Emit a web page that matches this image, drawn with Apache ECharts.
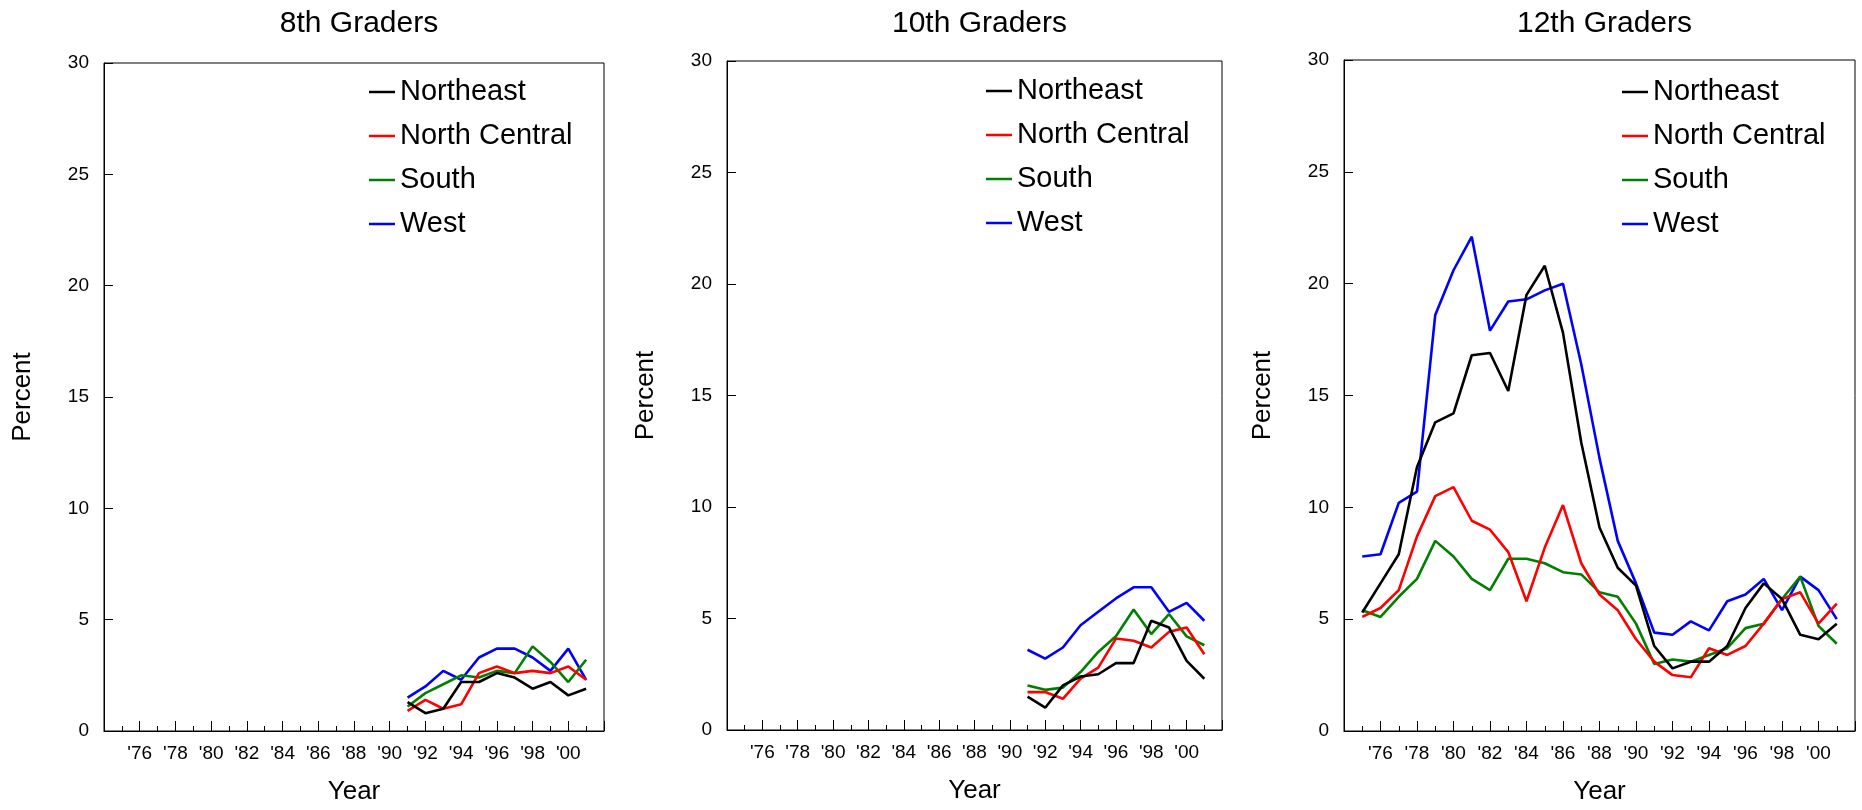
<!DOCTYPE html>
<html>
<head>
<meta charset="utf-8">
<script src="https://cdn.jsdelivr.net/npm/echarts@6/dist/echarts.min.js"></script>
<style>
html,body{margin:0;padding:0;background:#fff;}
#chart{width:1862px;height:810px;}
</style>
</head>
<body>
<div id="chart"></div>
<script>
// ---- Data ----
const panelTitles = ['8th Graders', '10th Graders', '12th Graders'];
const regionNames = ['Northeast', 'North Central', 'South', 'West'];
const regionColors = ['#000000', '#ff0000', '#008000', '#0000ff'];

const years8 = [1991,1992,1993,1994,1995,1996,1997,1998,1999,2000,2001];
const ne8   = [1.3,0.8,1.0,2.2,2.2,2.6,2.4,1.9,2.2,1.6,1.9];
const nc8   = [0.9,1.4,1.0,1.2,2.6,2.9,2.6,2.7,2.6,2.9,2.3];
const south8= [1.1,1.7,2.1,2.5,2.4,2.7,2.6,3.8,3.1,2.2,3.2];
const west8 = [1.5,2.0,2.7,2.3,3.3,3.7,3.7,3.3,2.7,3.7,2.3];

const years10 = [1991,1992,1993,1994,1995,1996,1997,1998,1999,2000,2001];
const ne10   = [1.5,1.0,2.0,2.4,2.5,3.0,3.0,4.9,4.6,3.1,2.3];
const nc10   = [1.7,1.7,1.4,2.3,2.8,4.1,4.0,3.7,4.4,4.6,3.4];
const south10= [2.0,1.8,1.9,2.6,3.5,4.2,5.4,4.3,5.2,4.2,3.8];
const west10 = [3.6,3.2,3.7,4.7,5.3,5.9,6.4,6.4,5.3,5.7,4.9];

const years12 = [1975,1976,1977,1978,1979,1980,1981,1982,1983,1984,1985,1986,1987,1988,1989,1990,1991,1992,1993,1994,1995,1996,1997,1998,1999,2000,2001];
const ne12   = [5.3,6.6,7.9,11.8,13.8,14.2,16.8,16.9,15.2,19.5,20.8,17.8,12.9,9.1,7.3,6.5,3.8,2.8,3.1,3.1,3.8,5.5,6.6,5.9,4.3,4.1,4.8];
const nc12   = [5.1,5.5,6.3,8.7,10.5,10.9,9.4,9.0,8.0,5.8,8.2,10.1,7.5,6.1,5.4,4.1,3.1,2.5,2.4,3.7,3.4,3.8,4.8,5.9,6.2,4.8,5.7];
const south12= [5.4,5.1,6.0,6.8,8.5,7.8,6.8,6.3,7.7,7.7,7.5,7.1,7.0,6.2,6.0,4.8,3.0,3.2,3.1,3.4,3.7,4.6,4.8,5.9,6.9,4.7,3.9];
const west12 = [7.8,7.9,10.2,10.7,18.6,20.6,22.1,17.9,19.2,19.3,19.7,20.0,16.4,12.2,8.5,6.6,4.4,4.3,4.9,4.5,5.8,6.1,6.8,5.4,6.9,6.3,5.0];

const yTickValues = [0,5,10,15,20,25,30];
const xMin = 1974, xMax = 2002;

const panelYears = [years8, years10, years12];
const panelValues = [
  [ne8, nc8, south8, west8],
  [ne10, nc10, south10, west10],
  [ne12, nc12, south12, west12]
];

// ---- Layout ----
const grids = [
  {left:104, top:63, width:500, height:674},
  {left:727, top:61, width:495, height:669},
  {left:1344, top:60, width:511, height:672}
];
const legendPos = [
  {left:364, top:72},
  {left:981, top:71},
  {left:1617, top:72}
];

const FONT = 'Liberation Sans, Arial, Helvetica, sans-serif';

const option = {
  backgroundColor:'#fff',
  animation:false,
  title: panelTitles.map((t,i)=>({
    text:t,
    left: grids[i].left + grids[i].width/2,
    top: 4,
    textAlign:'center',
    textStyle:{fontFamily:FONT,fontSize:30,fontWeight:'normal',color:'#000'}
  })),
  grid: grids.map(g=>Object.assign({show:true,borderColor:'#000',borderWidth:1,backgroundColor:'transparent',containLabel:false},g)),
  legend: legendPos.map((p,i)=>({
    orient:'vertical',
    left:p.left, top:p.top,
    data: regionNames.map(n=>({name:n, icon:'rect'})),
    itemWidth:26, itemHeight:2.5, itemGap:14,
    selectedMode:false,
    textStyle:{fontFamily:FONT,fontSize:29,color:'#000',lineHeight:30,padding:[0,0,0,0]}
  })),
  xAxis: grids.map((g,i)=>({
    type:'value', gridIndex:i, min:xMin, max:xMax, interval:2,
    name:'Year', nameLocation:'middle', nameGap:48,
    nameTextStyle:{fontFamily:FONT,fontSize:26,color:'#000'},
    axisLine:{show:true,lineStyle:{color:'#000',width:1}},
    axisTick:{show:true,inside:true,length:10,lineStyle:{color:'#000'}},
    minorTick:{show:true,splitNumber:2,length:5,lineStyle:{color:'#000'}},
    splitLine:{show:false},
    axisLabel:{
      fontFamily:FONT,fontSize:19,color:'#000',margin:13,
      showMinLabel:false, showMaxLabel:false,
      formatter:v=> (v===xMin||v===xMax) ? '' : "'" + String(v).slice(2)
    }
  })),
  yAxis: grids.map((g,i)=>({
    type:'value', gridIndex:i, min:yTickValues[0], max:yTickValues[yTickValues.length-1], interval:5,
    name:'Percent', nameLocation:'middle', nameGap:68,
    nameTextStyle:{fontFamily:FONT,fontSize:26,color:'#000'},
    axisLine:{show:true,lineStyle:{color:'#000',width:1}},
    axisTick:{show:true,inside:true,length:9,lineStyle:{color:'#000'}},
    splitLine:{show:false},
    axisLabel:{fontFamily:FONT,fontSize:19,color:'#000',margin:15}
  })),
  series: []
};

panelValues.forEach((vals,pi)=>{
  vals.forEach((arr,ri)=>{
    option.series.push({
      type:'line', name:regionNames[ri], xAxisIndex:pi, yAxisIndex:pi,
      data: panelYears[pi].map((y,k)=>[y, arr[k]]),
      showSymbol:false, symbol:'none',
      lineStyle:{color:regionColors[ri], width:2.6},
      itemStyle:{color:regionColors[ri]},
      z: 10 - ri
    });
  });
});

const chart = echarts.init(document.getElementById('chart'), null, {renderer:'canvas'});
chart.setOption(option);
</script>
</body>
</html>
